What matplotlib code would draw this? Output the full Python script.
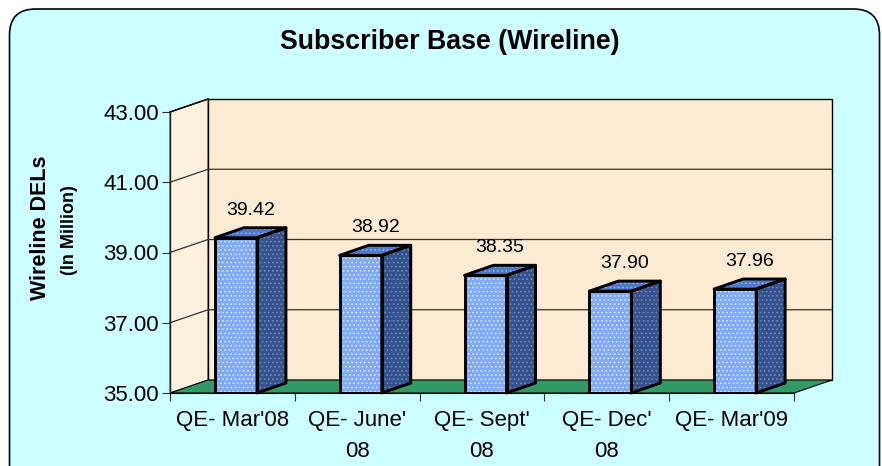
import matplotlib.pyplot as plt
import numpy as np
from matplotlib.patches import Polygon, FancyBboxPatch

plt.rcParams["font.family"] = ["Liberation Sans", "DejaVu Sans"]
plt.rcParams["hatch.linewidth"] = 0.7

quarters = ["QE- Mar'08", "QE- June'\n08", "QE- Sept'\n08", "QE- Dec'\n08", "QE- Mar'09"]
subscribers = [39.42, 38.92, 38.35, 37.90, 37.96]
y_ticks = [35, 37, 39, 41, 43]

Y0, Y1 = 35, 43
WALL_DX, WALL_DY = 0.305, 0.37      # depth of the 3D box (category units, value units)
BAR_DX, BAR_DY = 0.232, 0.285       # depth of each bar
BAR_LEFT, BAR_W = -0.14, 0.337

FRONT = "#80AAF5"
FRONT_DOT = "#D2E6FF"
SIDE = "#36528C"
SIDE_DOT = "#6A88C0"
TOP = "#5078C8"
TOP_DOT = "#92B0EA"
WALL = "#FBEBD2"
SIDE_WALL = "#FCF0DF"
FLOOR = "#339966"

fig = plt.figure(figsize=(8.82, 4.66), dpi=100)
fig.patch.set_facecolor("white")

frame = FancyBboxPatch((0.095, -0.4), 8.70, 4.97, boxstyle="round,pad=0,rounding_size=0.26",
                       transform=fig.dpi_scale_trans, facecolor="#CCFFFF", edgecolor="black",
                       linewidth=1.2, zorder=-1)
fig.add_artist(frame)

ax = fig.add_axes([170 / 882, 73 / 466, 624 / 882, 281 / 466])
ax.set_zorder(1)
ax.set_facecolor("none")
n = len(quarters)
ax.set_xlim(-0.5, n - 0.5)
ax.set_ylim(Y0, Y1)

# side wall
ax.add_patch(Polygon([(-0.5, Y0), (-0.5 + WALL_DX, Y0 + WALL_DY), (-0.5 + WALL_DX, Y1 + WALL_DY), (-0.5, Y1)],
                     closed=True, facecolor=SIDE_WALL, edgecolor="#444444", linewidth=0.8,
                     clip_on=False, zorder=1))
# back wall
ax.add_patch(Polygon([(-0.5 + WALL_DX, Y0 + WALL_DY), (n - 0.5 + WALL_DX, Y0 + WALL_DY),
                      (n - 0.5 + WALL_DX, Y1 + WALL_DY), (-0.5 + WALL_DX, Y1 + WALL_DY)],
                     closed=True, facecolor=WALL, edgecolor="black", linewidth=1.0,
                     clip_on=False, zorder=1))
# gridlines
for v in y_ticks[1:-1]:
    ax.plot([-0.5, -0.5 + WALL_DX, n - 0.5 + WALL_DX], [v, v + WALL_DY, v + WALL_DY],
            color="#333333", linewidth=0.9, clip_on=False, zorder=2)
ax.plot([-0.5, -0.5 + WALL_DX], [Y1, Y1 + WALL_DY], color="black", linewidth=1.1, clip_on=False, zorder=2)
# floor
ax.add_patch(Polygon([(-0.5, Y0), (n - 0.5, Y0), (n - 0.5 + WALL_DX, Y0 + WALL_DY), (-0.5 + WALL_DX, Y0 + WALL_DY)],
                     closed=True, facecolor=FLOOR, edgecolor="black", linewidth=0.8,
                     clip_on=False, zorder=2))

x = np.arange(n)
for xi, v in zip(x, subscribers):
    x0 = xi + BAR_LEFT
    x1 = x0 + BAR_W
    side = [(x1, Y0), (x1 + BAR_DX, Y0 + BAR_DY), (x1 + BAR_DX, v + BAR_DY), (x1, v)]
    top = [(x0, v), (x1, v), (x1 + BAR_DX, v + BAR_DY), (x0 + BAR_DX, v + BAR_DY)]
    for pts, fc, dc in ((side, SIDE, SIDE_DOT), (top, TOP, TOP_DOT)):
        ax.add_patch(Polygon(pts, closed=True, facecolor=fc, edgecolor=dc, hatch="....",
                             linewidth=0, clip_on=False, zorder=3))
        ax.add_patch(Polygon(pts, closed=True, fill=False, edgecolor="black", linewidth=2.1,
                             joinstyle="round", clip_on=False, zorder=4))
    ax.bar(x0, v - Y0, bottom=Y0, width=BAR_W, align="edge", color=FRONT, edgecolor=FRONT_DOT,
           hatch="....", linewidth=0, zorder=3)
    ax.bar(x0, v - Y0, bottom=Y0, width=BAR_W, align="edge", fill=False, edgecolor="black",
           linewidth=2.1, joinstyle="round", zorder=4)
    ax.text((x0 + x1 + BAR_DX) / 2, v + BAR_DY + 0.5, f"{v:.2f}", ha="center", va="center",
            fontsize=14, color="black", zorder=5)

for s in ("top", "right"):
    ax.spines[s].set_visible(False)
ax.spines["left"].set_color("#222222")
ax.spines["left"].set_linewidth(1.0)
ax.spines["bottom"].set_color("black")
ax.spines["bottom"].set_linewidth(0.8)
ax.spines["left"].set_zorder(2)
ax.spines["bottom"].set_zorder(2)

ax.set_yticks(y_ticks)
ax.set_yticklabels([f"{v:.2f}" for v in y_ticks], fontsize=16)
ax.tick_params(axis="y", length=6, width=0.8, color="#333333", pad=2)

ax.set_xticks(np.arange(n + 1) - 0.5)
ax.set_xticklabels([])
ax.set_xticks(x, minor=True)
ax.set_xticklabels(quarters, minor=True, fontsize=16, linespacing=1.65)
ax.tick_params(axis="x", which="major", length=6, width=0.8, color="#333333")
ax.tick_params(axis="x", which="minor", length=0, pad=12)

fig.text(450 / 882, 1 - 42 / 466, "Subscriber Base (Wireline)", ha="center", va="center",
         fontsize=19.3, fontweight="bold")
fig.text(40 / 882, 1 - 228 / 466, "Wireline DELs", ha="center", va="center", rotation=90,
         fontsize=15.5, fontweight="bold")
fig.text(70 / 882, 1 - 230 / 466, "(In Million)", ha="center", va="center", rotation=90,
         fontsize=13, fontweight="bold")

fig.savefig("out.png", dpi=100)
